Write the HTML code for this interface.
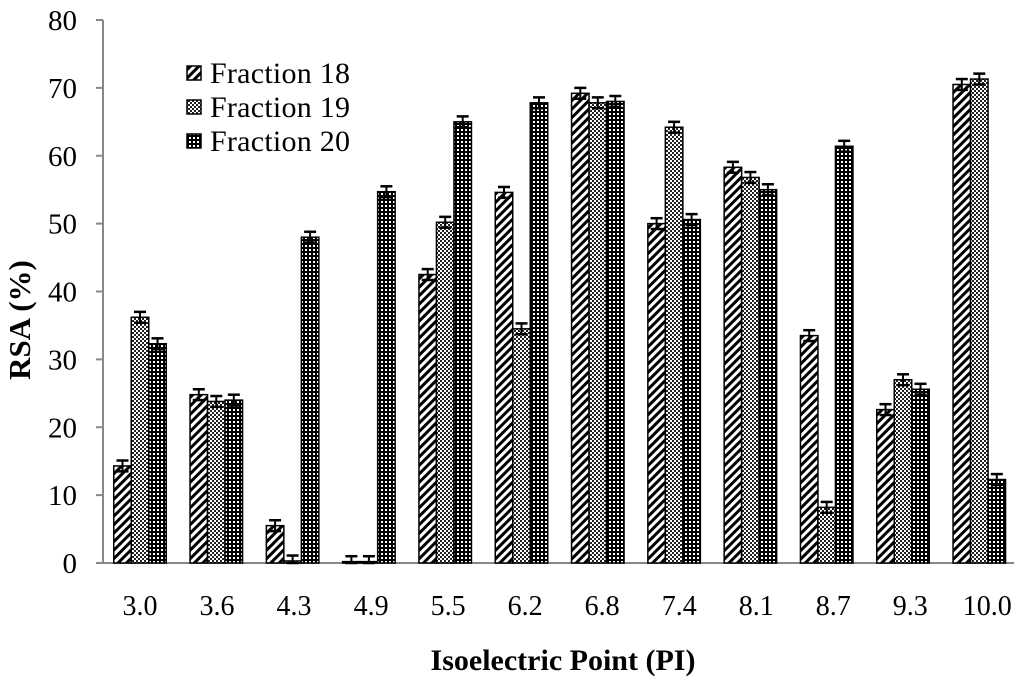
<!DOCTYPE html>
<html><head><meta charset="utf-8"><style>
body{margin:0;background:#fff}
svg{display:block;font-family:"Liberation Serif",serif}
</style></head><body>
<svg id="c" width="1024" height="683">
<defs>
<pattern id="p18" width="6" height="6" patternUnits="userSpaceOnUse" patternTransform="rotate(45)">
<rect width="6" height="6" fill="#fff"/><rect width="3" height="6" fill="#000"/></pattern>
<pattern id="p19" width="4" height="4" patternUnits="userSpaceOnUse">
<rect width="4" height="4" fill="#fff"/><rect width="2" height="2" fill="#222"/><rect x="2" y="2" width="2" height="2" fill="#222"/></pattern>
<pattern id="p20" width="4" height="4" patternUnits="userSpaceOnUse">
<rect width="4" height="4" fill="#000"/><rect x="1" y="1" width="2" height="2" fill="#fff"/></pattern>
</defs>
<g id="plot"></g>
</svg>
<script>
const categories=["3.0","3.6","4.3","4.9","5.5","6.2","6.8","7.4","8.1","8.7","9.3","10.0"];
const fraction18=[14.3,24.8,5.5,0.2,42.5,54.6,69.2,50.0,58.3,33.5,22.6,70.5];
const fraction19=[36.2,23.8,0.3,0.2,50.2,34.5,67.8,64.2,56.8,8.2,27.0,71.3];
const fraction20=[32.3,24.0,48.0,54.7,65.0,67.8,68.0,50.6,55.0,61.4,25.6,12.3];
const errors=[0.8,0.8,0.8,0.8,0.8,0.8,0.8,0.8,0.8,0.8,0.8,0.8];
const yTicks=[0,10,20,30,40,50,60,70,80];
const seriesNames=["Fraction 18","Fraction 19","Fraction 20"];
const NS="http://www.w3.org/2000/svg";
const g=document.getElementById('plot');
const y=v=>563-v*(543/80);
const x=i=>140+i*76.3;
function el(t,a,p){const e=document.createElementNS(NS,t);for(const k in a)e.setAttribute(k,a[k]);(p||g).appendChild(e);return e;}
let e;
e=el('line',{x1:103,y1:20,x2:103,y2:563,stroke:'#888','stroke-width':2});

e=el('line',{x1:103,y1:563,x2:1014,y2:563,stroke:'#888','stroke-width':2});

yTicks.forEach(v=>{
 el('line',{x1:96,y1:y(v),x2:103,y2:y(v),stroke:'#888','stroke-width':2});
 e=el('text',{x:77,y:y(v)+10,'text-anchor':'end','font-size':29});e.textContent=v;
 
});
const series=[fraction18,fraction19,fraction20];const pats=['p18','p19','p20'];
const bw=17.5;
categories.forEach((c,i)=>{
 series.forEach((s,j)=>{
  const bx=x(i)-bw*1.5+j*bw;
  e=el('rect',{x:bx,y:y(s[i]),width:bw,height:563-y(s[i]),fill:'url(#'+pats[j]+')',stroke:'#000','stroke-width':1.5});
  
  const cx=bx+bw/2,hi=y(s[i]+errors[i]),lo=y(Math.max(0,s[i]-errors[i]));
  el('line',{x1:cx,y1:hi,x2:cx,y2:lo,stroke:'#000','stroke-width':2});
  el('line',{x1:cx-6,y1:hi,x2:cx+6,y2:hi,stroke:'#000','stroke-width':2.5});
  el('line',{x1:cx-6,y1:lo,x2:cx+6,y2:lo,stroke:'#000','stroke-width':2.5});
 });
 e=el('text',{x:x(i)+(i/11)*8,y:615,'text-anchor':'middle','font-size':28});e.textContent=c;
 
});
seriesNames.forEach((n,j)=>{
 const ly=83+j*34;
 el('rect',{x:187,y:ly-17,width:14,height:14,fill:'url(#'+pats[j]+')',stroke:'#000','stroke-width':1.5});
 e=el('text',{x:210,y:ly,'font-size':30,'textLength':140});e.textContent=n;
 
});
e=el('text',{x:563,y:670,'text-anchor':'middle','font-size':30,'font-weight':'bold'});e.textContent='Isoelectric Point (PI)';

e=el('text',{x:0,y:0,'text-anchor':'middle','font-size':31,'font-weight':'bold',transform:'translate(30,320) rotate(-90)'});e.textContent='RSA (%)';

</script>
</body></html>
